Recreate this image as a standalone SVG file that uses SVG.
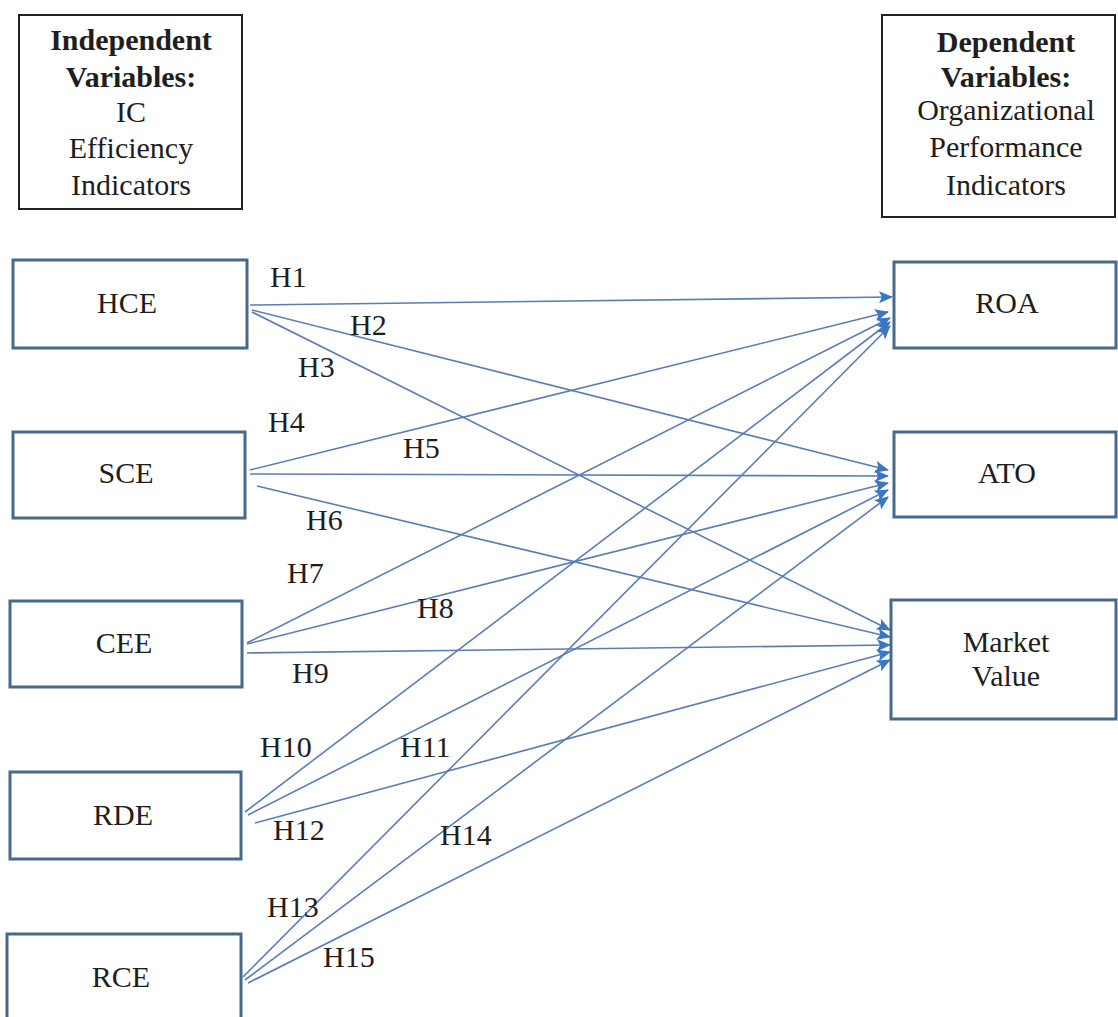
<svg xmlns="http://www.w3.org/2000/svg" width="1118" height="1017" viewBox="0 0 1118 1017" font-family="'Liberation Serif', 'DejaVu Serif', serif">
<style>
text{font-family:'Liberation Serif','DejaVu Serif',serif;font-size:30px;fill:#1e1e1e}
.c{text-anchor:middle}
.b{font-weight:bold}
.hdr{fill:#fff;stroke:#222;stroke-width:2}
.node{fill:#fff;stroke:#46698c;stroke-width:3}
.edge{stroke:#5b7db3;stroke-width:1.6;fill:none;marker-end:url(#ah)}
</style>
<defs>
<marker id="ah" markerUnits="userSpaceOnUse" markerWidth="14" markerHeight="12" refX="13" refY="6" orient="auto">
<path d="M0,0 L14,6 L0,12 L3,6 z" fill="#3b76c4"/>
</marker>
</defs>
<rect width="1118" height="1017" fill="#fff"/>
<g id="hdr-independent">
<rect class="hdr" x="19" y="15" width="223" height="194"/>
<text class="c b" x="131" y="50">Independent</text>
<text class="c b" x="131" y="87">Variables:</text>
<text class="c" x="131" y="122">IC</text>
<text class="c" x="131" y="158">Efficiency</text>
<text class="c" x="131" y="195">Indicators</text>
</g>
<g id="hdr-dependent">
<rect class="hdr" x="882" y="15" width="233" height="202"/>
<text class="c b" x="1006" y="52">Dependent</text>
<text class="c b" x="1006" y="87">Variables:</text>
<text class="c" x="1006" y="120">Organizational</text>
<text class="c" x="1006" y="157">Performance</text>
<text class="c" x="1006" y="195">Indicators</text>
</g>
<g id="connectors">
<line class="edge" x1="250" y1="305" x2="892" y2="297"/>
<line class="edge" x1="252" y1="310" x2="888" y2="470"/>
<line class="edge" x1="252" y1="312" x2="890" y2="630"/>
<line class="edge" x1="250" y1="470" x2="888" y2="312"/>
<line class="edge" x1="250" y1="474" x2="888" y2="476"/>
<line class="edge" x1="257" y1="486" x2="890" y2="637"/>
<line class="edge" x1="247" y1="643" x2="890" y2="318"/>
<line class="edge" x1="247" y1="644" x2="888" y2="483"/>
<line class="edge" x1="247" y1="653" x2="890" y2="645"/>
<line class="edge" x1="245" y1="812" x2="890" y2="322"/>
<line class="edge" x1="248" y1="815" x2="888" y2="490"/>
<line class="edge" x1="255" y1="823" x2="890" y2="652"/>
<line class="edge" x1="243" y1="977" x2="890" y2="326"/>
<line class="edge" x1="245" y1="980" x2="888" y2="497"/>
<line class="edge" x1="248" y1="983" x2="890" y2="660"/>
</g>
<g id="edge-labels">
<text x="270" y="287">H1</text>
<text x="350" y="335">H2</text>
<text x="298" y="377">H3</text>
<text x="268" y="432">H4</text>
<text x="403" y="458">H5</text>
<text x="306" y="530">H6</text>
<text x="287" y="583">H7</text>
<text x="417" y="618">H8</text>
<text x="292" y="683">H9</text>
<text x="260" y="757">H10</text>
<text x="400" y="757">H11</text>
<text x="273" y="840">H12</text>
<text x="267" y="917">H13</text>
<text x="440" y="845">H14</text>
<text x="323" y="967">H15</text>
</g>
<g id="node-hce"><rect class="node" x="13" y="260" width="234" height="88"/><text class="c" x="127" y="313">HCE</text></g>
<g id="node-sce"><rect class="node" x="13" y="432" width="232" height="86"/><text class="c" x="126" y="483">SCE</text></g>
<g id="node-cee"><rect class="node" x="10" y="601" width="232" height="86"/><text class="c" x="124" y="653">CEE</text></g>
<g id="node-rde"><rect class="node" x="10" y="772" width="231" height="87"/><text class="c" x="123" y="825">RDE</text></g>
<g id="node-rce"><rect class="node" x="7" y="934" width="234" height="95"/><text class="c" x="121" y="987">RCE</text></g>
<g id="node-roa"><rect class="node" x="894" y="262" width="222" height="86"/><text class="c" x="1007" y="313">ROA</text></g>
<g id="node-ato"><rect class="node" x="894" y="432" width="222" height="85"/><text class="c" x="1007" y="483">ATO</text></g>
<g id="node-mv"><rect class="node" x="891" y="600" width="225" height="119"/><text class="c" x="1006" y="652">Market</text><text class="c" x="1006" y="686">Value</text></g>
</svg>
